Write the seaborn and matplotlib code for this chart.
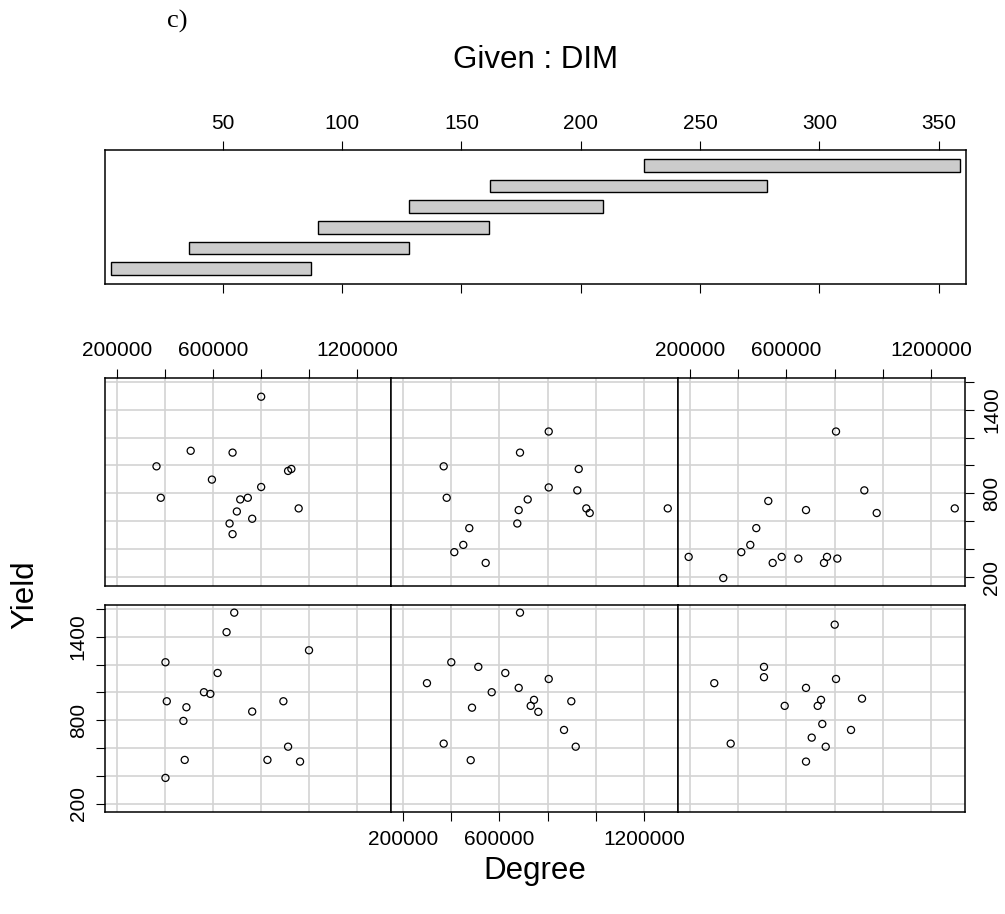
import matplotlib
matplotlib.use("Agg")
import matplotlib.pyplot as plt
import seaborn as sns
import numpy as np
from matplotlib.patches import Rectangle

# ---- data: conditioning intervals of DIM (bottom to top) ----
dim_lo = [3.4, 35.9, 90.0, 127.9, 162.1, 226.4]
dim_hi = [87.0, 127.9, 161.6, 209.4, 278.2, 358.9]
dim_ticks = [50, 100, 150, 200, 250, 300, 350]

# ---- data: Degree / Yield per panel (panel 1 = bottom-left ... 6 = top-right) ----
deg_1 = [688100, 656100, 1000000, 401200, 618700, 561700, 588400, 406700, 893100,
         488600, 763000, 476100, 912700, 481500, 826600, 962600, 401200]
yld_1 = [1573, 1433, 1303, 1217, 1140, 1002, 990, 937, 937,
         894, 863, 796, 611, 516, 516, 504, 387]

deg_2 = [685200, 399600, 511900, 624100, 298500, 804600, 679800, 567600, 743500,
         729700, 761300, 898500, 485700, 868200, 368000, 916800, 480300]
yld_2 = [1573, 1217, 1184, 1140, 1067, 1097, 1033, 1002, 947,
         904, 861, 937, 891, 731, 633, 611, 514]

deg_3 = [800400, 506400, 506400, 299800, 805800, 681100, 743500, 729700, 913900,
         592500, 748800, 868200, 704800, 763000, 368000, 681100]
yld_3 = [1487, 1184, 1110, 1067, 1097, 1033, 947, 904, 956,
         904, 774, 731, 676, 611, 633, 504]

deg_4 = [800400, 506400, 681100, 363800, 912700, 926400, 595000, 800400,
         381700, 713100, 744700, 956800, 699000, 763000, 668600, 681100]
yld_4 = [1492, 1105, 1092, 994, 961, 975, 899, 846,
         769, 757, 769, 693, 671, 619, 585, 509]

deg_5 = [804600, 685200, 368000, 929300, 804600, 923500, 380500, 717200, 960900,
         975000, 679800, 674000, 474400, 449500, 412100, 542600, 1299400]
yld_5 = [1243, 1092, 994, 975, 843, 822, 769, 757, 693,
         660, 681, 585, 552, 432, 380, 303, 693]

deg_6 = [805800, 923500, 524300, 681100, 975000, 1299400, 474400, 449500, 412100,
         193300, 542600, 580000, 649100, 768400, 755900, 811200, 337200]
yld_6 = [1243, 822, 746, 681, 660, 693, 552, 432, 380,
         346, 303, 346, 334, 346, 303, 334, 195]

deg_ticks = [200000, 400000, 600000, 800000, 1000000, 1200000]
deg_labels = ["200000", "", "600000", "", "", "1200000"]
yld_ticks = [200, 400, 600, 800, 1000, 1200, 1400, 1600]
yld_labels = ["200", "", "", "800", "", "", "1400", ""]

panels_deg = [deg_1, deg_2, deg_3, deg_4, deg_5, deg_6]
panels_yld = [yld_1, yld_2, yld_3, yld_4, yld_5, yld_6]

sns.set_style("white")
plt.rcParams["font.family"] = ["Liberation Sans", "DejaVu Sans"]
plt.rcParams["text.color"] = "black"
plt.rcParams["xtick.color"] = "black"
plt.rcParams["ytick.color"] = "black"
plt.rcParams["axes.labelcolor"] = "black"

W, H = 1005, 914
fig = plt.figure(figsize=(W / 100, H / 100), dpi=100)

def fx(px):
    return px / W

def fy(py):
    return 1 - py / H

TICK_FS = 15
LAB_FS = 22.5
FRAME_LW = 1.1
TICK_LEN = 6.5

# ---- given panel ----
gax = fig.add_axes([fx(105), fy(284), fx(966) - fx(105), fy(150) - fy(284)])
for i, (lo, hi) in enumerate(zip(dim_lo, dim_hi), start=1):
    gax.add_patch(Rectangle((lo, i - 0.3), hi - lo, 0.6, facecolor="#CCCCCC",
                            edgecolor="black", linewidth=1.0))
gax.set_xlim(0.7, 361.4)
gax.set_ylim(0.26, 6.74)
gax.set_xticks(dim_ticks)
gax.set_xticklabels([str(t) for t in dim_ticks])
gax.set_yticks([])
gax.tick_params(axis="x", top=True, bottom=True, labeltop=True, labelbottom=False,
                direction="out", length=TICK_LEN, width=0.8, labelsize=TICK_FS, pad=6,
                color="black", labelcolor="black")
for sp in gax.spines.values():
    sp.set_linewidth(FRAME_LW)
    sp.set_color("black")
fig.text(fx(535.5), fy(60), "Given : DIM", ha="center", va="center", fontsize=LAB_FS,
         color="black")

# ---- scatter panels ----
col_edges = [105, 391, 678, 965]
row_edges = [(377.7, 585.7), (605, 812.3)]  # top row, bottom row

for idx in range(6):
    r = 1 if idx < 3 else 0   # panels 1-3 bottom row, 4-6 top row
    c = idx % 3
    top, bot = row_edges[r]
    ax = fig.add_axes([fx(col_edges[c]), fy(bot), fx(col_edges[c + 1]) - fx(col_edges[c]),
                       fy(top) - fy(bot)])
    ax.set_axisbelow(True)
    ax.grid(True, color="#D3D3D3", linewidth=1.2)
    sns.scatterplot(x=panels_deg[idx], y=panels_yld[idx], ax=ax, marker="o", s=26,
                    facecolor="none", edgecolor="black", linewidth=0.9, zorder=3)
    ax.set_xlim(149000, 1342000)
    ax.set_ylim(140, 1628)
    ax.set_xticks(deg_ticks)
    ax.set_xticklabels(deg_labels)
    ax.set_yticks(yld_ticks)
    ax.set_yticklabels(yld_labels, rotation=90, va="center")
    for sp in ax.spines.values():
        sp.set_linewidth(FRAME_LW)
        sp.set_color("black")
    show_top = (r == 0 and c in (0, 2))
    show_right = (r == 0 and c == 2)
    show_bottom = (r == 1 and c == 1)
    show_left = (r == 1 and c == 0)
    ax.tick_params(axis="x", top=show_top, labeltop=show_top, bottom=show_bottom,
                   labelbottom=show_bottom, direction="out", length=TICK_LEN, width=0.8,
                   labelsize=TICK_FS, pad=6, color="black", labelcolor="black")
    ax.tick_params(axis="y", left=show_left, labelleft=show_left, right=show_right,
                   labelright=show_right, direction="out", length=TICK_LEN, width=0.8,
                   labelsize=TICK_FS, pad=6, color="black", labelcolor="black")
    ax.set_xlabel("")
    ax.set_ylabel("")

fig.text(fx(535), fy(871), "Degree", ha="center", va="center", fontsize=LAB_FS,
         color="black")
fig.text(fx(25), fy(595), "Yield", ha="center", va="center", rotation=90, fontsize=LAB_FS,
         color="black")
fig.text(fx(177), fy(21), "c)", ha="center", va="center", fontsize=19, color="black",
         family=["Liberation Serif", "DejaVu Serif"])

fig.savefig("out.png", dpi=100)
